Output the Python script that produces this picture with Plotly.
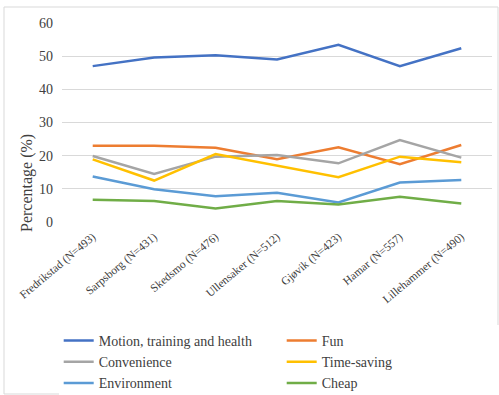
import plotly.graph_objects as go

categories = ["Fredrikstad (N=493)", "Sarpsborg (N=431)", "Skedsmo (N=476)",
              "Ullensaker (N=512)", "Gjøvik (N=423)", "Hamar (N=557)", "Lillehammer (N=490)"]
motion = [47.0, 49.6, 50.3, 49.0, 53.4, 47.0, 52.4]
fun = [23.0, 23.0, 22.4, 18.9, 22.5, 17.4, 23.2]
convenience = [19.9, 14.5, 19.7, 20.2, 17.7, 24.7, 19.4]
time_saving = [18.9, 12.5, 20.5, 17.0, 13.5, 19.7, 18.0]
environment = [13.7, 9.9, 7.8, 8.8, 5.9, 11.9, 12.7]
cheap = [6.7, 6.3, 4.1, 6.3, 5.3, 7.6, 5.6]
y_ticks = [0, 10, 20, 30, 40, 50, 60]

series = [
    ("Motion, training and health", motion, "#4472C4"),
    ("Fun", fun, "#ED7D31"),
    ("Convenience", convenience, "#A5A5A5"),
    ("Time-saving", time_saving, "#FFC000"),
    ("Environment", environment, "#5B9BD5"),
    ("Cheap", cheap, "#70AD47"),
]

W, H = 499, 395
L, R, T, B = 62, 7, 23, 173
pw, ph = W - L - R, H - T - B

fig = go.Figure()
for name, vals, col in series:
    fig.add_trace(go.Scatter(x=categories, y=vals, mode="lines", name=name,
                             line=dict(color=col, width=2.5)))

font = "Liberation Serif, DejaVu Serif, serif"
fig.update_layout(
    width=W, height=H,
    margin=dict(l=L, r=R, t=T, b=B, autoexpand=False),
    paper_bgcolor="white", plot_bgcolor="white",
    font=dict(family=font, size=13, color="#404040"),
    showlegend=True,
    legend=dict(orientation="h", xref="paper", yref="paper",
                x=(63 - L) / pw - 0.01, xanchor="left",
                y=-(325 - (H - B)) / ph, yanchor="top",
                entrywidth=178, entrywidthmode="pixels",
                font=dict(family=font, size=14, color="#404040"),
                tracegroupgap=0, itemwidth=30, traceorder="normal"),
    xaxis=dict(type="category", tickangle=-40, showgrid=False, showline=False,
               ticks="", automargin=False, ticklabelstandoff=5,
               tickfont=dict(family=font, size=11.5, color="#404040"),
               range=[-0.5, len(categories) - 0.5]),
    yaxis=dict(range=[0, 60], tickvals=y_ticks, showgrid=True, gridcolor="#D9D9D9",
               gridwidth=1, zeroline=False, showline=False, ticks="", automargin=False,
               tickfont=dict(family=font, size=14, color="#404040"), ticklabelstandoff=8),
)

fig.add_annotation(text="Percentage (%)", xref="paper", yref="paper",
                   x=(27 - L) / pw, y=((H - B) - 183) / ph,
                   xanchor="center", yanchor="middle",
                   showarrow=False, textangle=-90,
                   font=dict(family=font, size=16, color="#404040"))

# outer chart frame
fig.add_shape(type="rect", xref="paper", yref="paper",
              x0=(4 - L) / pw, x1=(498 - L) / pw,
              y0=((H - B) - 394) / ph, y1=((H - B) - 7) / ph,
              line=dict(color="#D9D9D9", width=1), fillcolor="rgba(0,0,0,0)", layer="below")

fig.write_html("out.html")
